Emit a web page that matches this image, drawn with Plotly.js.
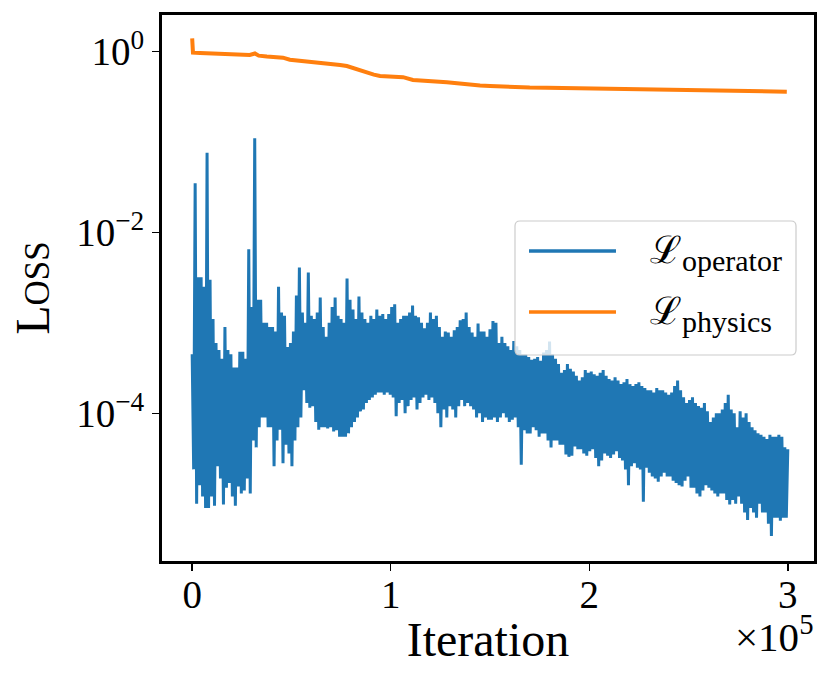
<!DOCTYPE html>
<html>
<head>
<meta charset="utf-8">
<script src="https://cdn.plot.ly/plotly-3.0.1.min.js"></script>
<style>html,body{margin:0;padding:0;background:#fff;}#chart{width:831px;height:683px;}</style>
</head>
<body>
<div id="chart"></div>
<script>
// ---- data ----
// operator loss: logged every 750 iterations; local maxima at k*1500, local minima at k*1500+750
const opStep = 1500;
const opPeaks = [
4.5e-4,3.5e-2,3.2e-3,3.2e-3,2.5e-3,7.6e-2,3.0e-3,1.1e-3,6e-4,5e-4,
4e-4,9e-4,5e-4,4.5e-4,3.2e-4,3.2e-4,4.8e-4,4.8e-4,4e-4,6.5e-3,
1.5e-3,0.11,1.8e-3,1.8e-3,1.0e-3,1.0e-3,9e-4,9e-4,8e-4,2.5e-3,
1.3e-3,1.2e-3,5.4e-4,6e-4,8e-4,2.0e-3,4.1e-3,1.3e-3,1.0e-3,3.6e-3,
1.2e-3,1.1e-3,1.3e-3,1.9e-3,9e-4,7e-4,1.0e-3,1.5e-3,1.9e-3,1.2e-3,
1.1e-3,1.0e-3,3.1e-3,1.8e-3,1.4e-3,1.1e-3,1.95e-3,1.3e-3,1.1e-3,1.0e-3,
1.2e-3,1.1e-3,1.4e-3,1.2e-3,1.25e-3,1.1e-3,1.25e-3,1.5e-3,1.6e-3,1.0e-3,
1.1e-3,1.2e-3,1.2e-3,1.3e-3,1.55e-3,1.2e-3,1.15e-3,1.0e-3,8.7e-4,1.0e-3,
1.3e-3,1.1e-3,1.2e-3,9e-4,7e-4,8e-4,7.8e-4,7e-4,8.3e-4,9e-4,
1.07e-3,1.1e-3,1.3e-3,9e-4,7.8e-4,7e-4,9.8e-4,8e-4,8e-4,7e-4,
8.5e-4,1.05e-3,1.0e-3,6e-4,7e-4,6e-4,5.5e-4,5e-4,6.3e-4,5.5e-4,
5e-4,4.5e-4,4.5e-4,4.2e-4,3.9e-4,4.0e-4,4.2e-4,3.8e-4,4.7e-4,5e-4,
6.2e-4,4.5e-4,4.0e-4,3.5e-4,2.8e-4,3.0e-4,3.5e-4,3.1e-4,2.9e-4,2.6e-4,
2.3e-4,2.5e-4,3.0e-4,2.8e-4,2.9e-4,2.7e-4,2.6e-4,2.8e-4,3.0e-4,2.6e-4,
2.4e-4,2.3e-4,2.5e-4,2.3e-4,2.1e-4,2.2e-4,2.4e-4,2.1e-4,2.0e-4,2.1e-4,
2.2e-4,2.0e-4,1.9e-4,1.8e-4,1.8e-4,1.7e-4,1.9e-4,1.8e-4,1.8e-4,1.7e-4,
1.6e-4,1.7e-4,2.0e-4,2.3e-4,1.8e-4,1.5e-4,1.3e-4,1.4e-4,1.5e-4,1.3e-4,
1.2e-4,1.15e-4,1.3e-4,1.05e-4,8e-5,9e-5,1.0e-4,1.0e-4,1.1e-4,1.3e-4,
1.6e-4,1.1e-4,1.0e-4,7e-5,1.05e-4,9e-5,1.0e-4,8e-5,7e-5,6.5e-5,
6e-5,5.8e-5,5.5e-5,5.2e-5,5.8e-5,5.5e-5,5.5e-5,5.8e-5,5.5e-5,4.2e-5,
4e-5
];
const opTroughs = [
2.4e-5,1.0e-5,1.6e-5,1.2e-5,9e-6,9e-6,1.2e-5,9.5e-6,2.6e-5,1.9e-5,
9.8e-6,1.5e-5,1.7e-5,1.2e-5,9.5e-6,1.55e-5,1.3e-5,1.4e-5,1.9e-5,1.3e-5,
5e-5,4.2e-5,7e-5,9e-5,9e-5,7e-5,7e-5,2.6e-5,5e-5,6.6e-5,
2.8e-5,4.5e-5,3.6e-5,2.6e-5,5e-5,7e-5,9e-5,1.8e-4,1.3e-4,1.15e-4,
1.2e-4,8e-5,6.6e-5,7e-5,7e-5,6.8e-5,7e-5,6.3e-5,6.5e-5,5.5e-5,
5.5e-5,5.5e-5,6e-5,7e-5,8e-5,9e-5,1.05e-4,1.1e-4,1.3e-4,1.4e-4,
1.5e-4,1.6e-4,1.7e-4,1.7e-4,1.6e-4,1.7e-4,1.6e-4,1.5e-4,9.3e-5,1.3e-4,
1.4e-4,1.0e-4,1.2e-4,1.4e-4,1.5e-4,1.1e-4,1.3e-4,1.5e-4,1.6e-4,1.4e-4,
1.5e-4,1.3e-4,1.0e-4,7e-5,1.1e-4,9e-5,1.2e-4,1.1e-4,9e-5,1.2e-4,
1.4e-4,1.2e-4,1.3e-4,1.2e-4,1.1e-4,9e-5,1.0e-4,8e-5,9e-5,8.5e-5,
8.5e-5,9e-5,8e-5,9e-5,1.0e-4,9e-5,8e-5,8.5e-5,9e-5,7e-5,
2.7e-5,6.5e-5,6e-5,6e-5,7e-5,6.5e-5,5.5e-5,6e-5,6e-5,5e-5,
4.2e-5,5e-5,5e-5,4.5e-5,4.5e-5,3.5e-5,3.3e-5,3.4e-5,4.3e-5,4e-5,
4e-5,3.6e-5,3.4e-5,3.8e-5,4e-5,3.2e-5,2.6e-5,3e-5,3.6e-5,3.4e-5,
3.2e-5,3.5e-5,3.8e-5,3.2e-5,3e-5,2.4e-5,1.6e-5,2.6e-5,2.8e-5,2.5e-5,
2.4e-5,1.05e-5,2.5e-5,2.2e-5,2.0e-5,1.9e-5,1.75e-5,2.0e-5,2.2e-5,2.0e-5,
2e-5,1.8e-5,1.7e-5,1.6e-5,1.55e-5,1.8e-5,2e-5,1.5e-5,1.5e-5,1.3e-5,
1.2e-5,1.4e-5,1.6e-5,1.5e-5,1.4e-5,1.3e-5,1.2e-5,1.3e-5,1.3e-5,1.1e-5,
9.8e-6,1.1e-5,1.0e-5,1.2e-5,1.0e-5,8e-6,6.6e-6,9e-6,8e-6,7e-6,
1.0e-5,8e-6,8e-6,6e-6,4.4e-6,7e-6,7e-6,6.5e-6,7e-6,7e-6
];

const physIter = [0,400,4000,8000,12500,16500,20500,25000,29000,31600,
33500,37600,41500,45700,49200,54200,58500,62800,67000,70900,
74500,77900,80500,83000,85500,88000,91500,94600,100000,106200,
111200,115500,119800,124000,128300,133400,139900,145000,150000,155500,
161600,170000,178700,187000,195300,203500,211900,220500,229000,237500,
245700,254000,262300,271000,279400,287000,294000,299500];
const physLoss = [1.40,0.97,0.96,0.95,0.94,0.935,0.93,0.925,0.915,0.95,
0.90,0.88,0.87,0.855,0.81,0.79,0.78,0.765,0.75,0.73,
0.71,0.69,0.66,0.625,0.60,0.58,0.555,0.535,0.53,0.52,
0.485,0.48,0.475,0.465,0.457,0.445,0.427,0.42,0.416,0.41,
0.405,0.40,0.398,0.395,0.392,0.388,0.385,0.381,0.378,0.373,
0.369,0.367,0.366,0.364,0.363,0.362,0.361,0.36];

const xTickVals = [0, 100000, 200000, 300000];
const xTickText = ['0', '1', '2', '3'];
const yTickVals = [1, 0.01, 0.0001];
const yTickText = ['10<sup>0</sup>', '10<sup>\u22122</sup>', '10<sup>\u22124</sup>'];
const seriesSymbol = '\u2112';
const seriesSubs = ['operator', 'physics'];
const colors = ['#1f77b4', '#ff7f0e'];

// ---- build operator series (peaks and troughs interleaved in iteration order) ----
const opIter = [], opLoss = [];
opPeaks.forEach((v, k) => {
  opIter.push(k * opStep); opLoss.push(v);
  if (k < opTroughs.length) { opIter.push(k * opStep + opStep / 2); opLoss.push(opTroughs[k]); }
});

// ---- figure ----
const FONT = 'Liberation Serif, Times New Roman, serif';
const names = seriesSubs.map(s => seriesSymbol + '<sub><span style="font-size:30px">' + s + '</span></sub>');

const traces = [
  {x: opIter, y: opLoss, type: 'scatter', mode: 'lines', name: names[0],
   line: {color: colors[0], width: 3}, showlegend: false},
  {x: physIter, y: physLoss, type: 'scatter', mode: 'lines', name: names[1],
   line: {color: colors[1], width: 4}, showlegend: false}
];

// custom legend (paper coordinates)
const lg = {x0: 0.5414, x1: 0.9724, y0: 0.3773, y1: 0.6227, rx: 0.0077, ry: 0.0092};
const boxPath = `M${lg.x0+lg.rx},${lg.y0} L${lg.x1-lg.rx},${lg.y0} Q${lg.x1},${lg.y0} ${lg.x1},${lg.y0+lg.ry} ` +
  `L${lg.x1},${lg.y1-lg.ry} Q${lg.x1},${lg.y1} ${lg.x1-lg.rx},${lg.y1} L${lg.x0+lg.rx},${lg.y1} ` +
  `Q${lg.x0},${lg.y1} ${lg.x0},${lg.y1-lg.ry} L${lg.x0},${lg.y0+lg.ry} Q${lg.x0},${lg.y0} ${lg.x0+lg.rx},${lg.y0} Z`;
const rowY = [0.5678, 0.4560];

const shapes = [
  {type: 'path', xref: 'paper', yref: 'paper', path: boxPath, layer: 'above',
   fillcolor: 'rgba(255,255,255,0.8)', line: {color: '#cccccc', width: 1.2}}
];
const annotations = [];
names.forEach((nm, i) => {
  shapes.push({type: 'line', xref: 'paper', yref: 'paper', layer: 'above',
    x0: 0.5629, x1: 0.6963, y0: rowY[i], y1: rowY[i], line: {color: colors[i], width: 3.5}});
  annotations.push({xref: 'paper', yref: 'paper', x: 0.7454, y: rowY[i] - 0.004, xanchor: 'left', yanchor: 'middle',
    text: nm, showarrow: false, font: {family: FONT, size: 38, color: '#000'}});
});
annotations.push({xref: 'paper', yref: 'paper', x: 1.0015, y: -0.134, xanchor: 'right', yanchor: 'middle',
  text: '\u00d710<sup>5</sup>', showarrow: false, font: {family: FONT, size: 41, color: '#000'}});

const layout = {
  width: 831, height: 683,
  margin: {l: 162, r: 17, t: 15, b: 122},
  paper_bgcolor: '#fff', plot_bgcolor: '#fff',
  font: {family: FONT, color: '#000'},
  xaxis: {
    range: [-15200, 313200], tickvals: xTickVals, ticktext: xTickText,
    ticks: 'outside', ticklen: 7, tickwidth: 1.5, tickcolor: '#000',
    ticklabelstandoff: -10,
    showline: true, linewidth: 3, linecolor: '#000', mirror: true,
    showgrid: false, zeroline: false,
    tickfont: {family: FONT, size: 39, color: '#000'},
    title: {text: 'Iteration', font: {family: FONT, size: 48, color: '#000'}, standoff: 8}
  },
  yaxis: {
    type: 'log', range: [-5.633, 0.4035], tickvals: yTickVals, ticktext: yTickText,
    ticks: 'outside', ticklen: 7, tickwidth: 1.5, tickcolor: '#000',
    showline: true, linewidth: 3, linecolor: '#000', mirror: true,
    showgrid: false, zeroline: false,
    tickfont: {family: FONT, size: 39, color: '#000'},
    title: {text: 'L<span style="font-size:35px">OSS</span>', font: {family: FONT, size: 48, color: '#000'}, standoff: 12}
  },
  shapes: shapes,
  annotations: annotations
};

Plotly.newPlot('chart', traces, layout, {displayModeBar: false, staticPlot: true});
</script>
</body>
</html>
